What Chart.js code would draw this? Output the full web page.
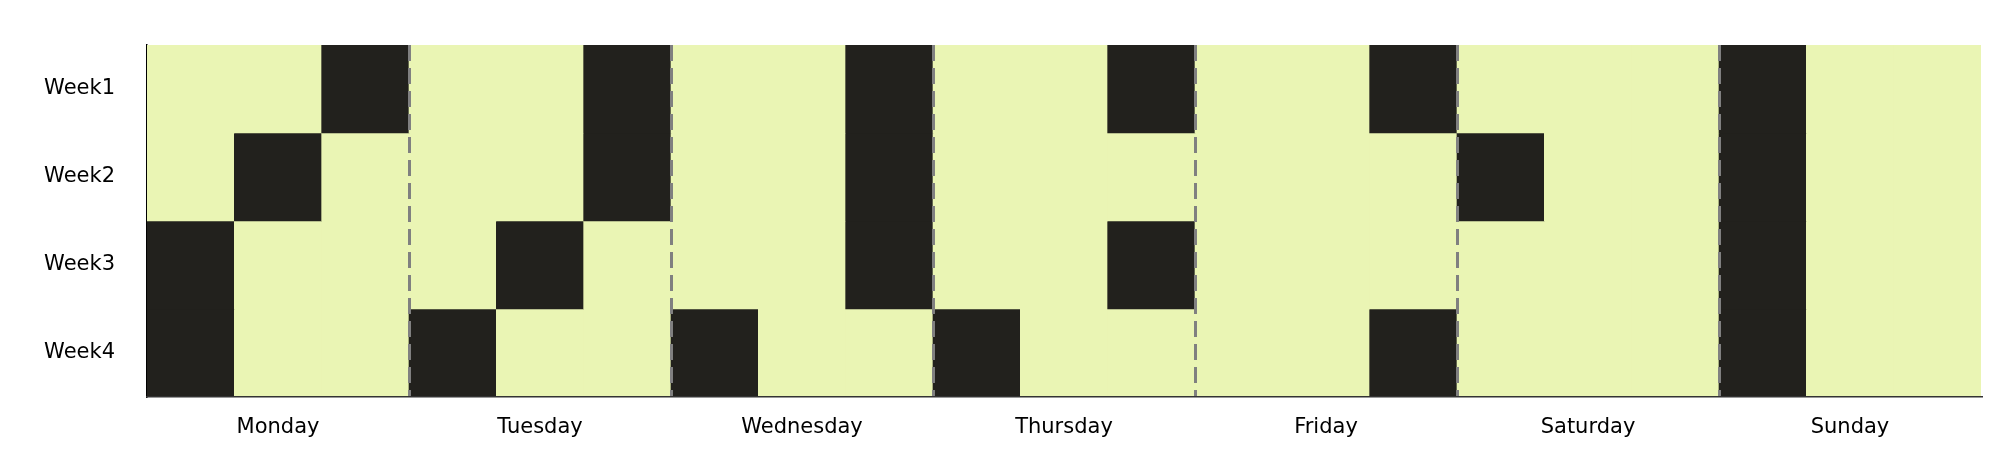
<!DOCTYPE html>
<html>
<head>
<meta charset="utf-8">
<script src="https://cdn.jsdelivr.net/npm/chart.js@4/dist/chart.umd.min.js"></script>
<style>
  body { margin: 0; background: #fff; }
  #wrap { width: 2002px; height: 452px; position: relative; }
</style>
</head>
<body>
<div id="wrap"><canvas id="heatmap"></canvas></div>
<script>
'use strict'

// data
const days = ["Monday", "Tuesday", "Wednesday", "Thursday", "Friday", "Saturday", "Sunday"];
const weeks = ["Week1", "Week2", "Week3", "Week4"];
const slotsPerDay = 3;

// 1 = dark cell, 0 = light cell (3 slots per day)
const week1 = [0,0,1, 0,0,1, 0,0,1, 0,0,1, 0,0,1, 0,0,0, 1,0,0];
const week2 = [0,1,0, 0,0,1, 0,0,1, 0,0,0, 0,0,0, 1,0,0, 1,0,0];
const week3 = [1,0,0, 0,1,0, 0,0,1, 0,0,1, 0,0,0, 0,0,0, 1,0,0];
const week4 = [1,0,0, 1,0,0, 1,0,0, 1,0,0, 0,0,1, 0,0,0, 1,0,0];
const weekValues = [week1, week2, week3, week4];

const lightColor = "#eaf5b4";
const darkColor = "#22211d";

// slot labels, one per column
let slotLabels = [];
days.forEach(day => {
    for (let s = 0; s < slotsPerDay; s++) {
        slotLabels.push(day + " " + (s + 1));
    }
});

// each week is a stacked band of height 1
const datasets = weeks.map((week, i) => ({
    label: week,
    data: weekValues[i].map(() => 1),
    backgroundColor: weekValues[i].map(v => v ? darkColor : lightColor),
    borderWidth: 0,
    barPercentage: 1,
    categoryPercentage: 1
}));

const font = { family: "'DejaVu Sans', sans-serif", size: 21 };

new Chart(document.getElementById("heatmap"), {
    type: "bar",
    data: { labels: slotLabels, datasets: datasets },
    options: {
        responsive: true,
        maintainAspectRatio: false,
        animation: false,
        layout: { padding: { top: 45, right: 21, left: 0, bottom: 0 } },
        plugins: { legend: { display: false }, tooltip: { enabled: false } },
        scales: {
            x: {
                stacked: true,
                offset: true,
                afterFit: (scale) => { scale.height = 55; },
                grid: {
                    offset: true,
                    z: 1,
                    drawTicks: false,
                    lineWidth: 3,
                    color: (ctx) => (ctx.index % slotsPerDay === 0 && ctx.index > 0 && ctx.index < slotLabels.length)
                        ? "#808080" : "rgba(0,0,0,0)"
                },
                // border drawn after the grid so its position is known
                border: { display: true, color: "#333333", width: 1.5, dash: [16, 7], z: 2 },
                ticks: {
                    autoSkip: false,
                    maxRotation: 0,
                    padding: 18,
                    color: "#000",
                    font: font,
                    callback: (value, index) => index % slotsPerDay === 1 ? days[Math.floor(index / slotsPerDay)] : ""
                }
            },
            y: {
                stacked: true,
                reverse: true,
                min: 0,
                max: weeks.length,
                afterFit: (scale) => { scale.width = 147; },
                afterBuildTicks: (scale) => {
                    scale.ticks = weeks.map((w, i) => ({ value: i + 0.5 }));
                },
                grid: { display: false, drawTicks: false },
                border: { display: true, color: "#000", width: 1.5 },
                ticks: {
                    padding: 32,
                    color: "#000",
                    font: font,
                    callback: (value) => weeks[Math.floor(value)]
                }
            }
        }
    }
});
</script>
</body>
</html>
